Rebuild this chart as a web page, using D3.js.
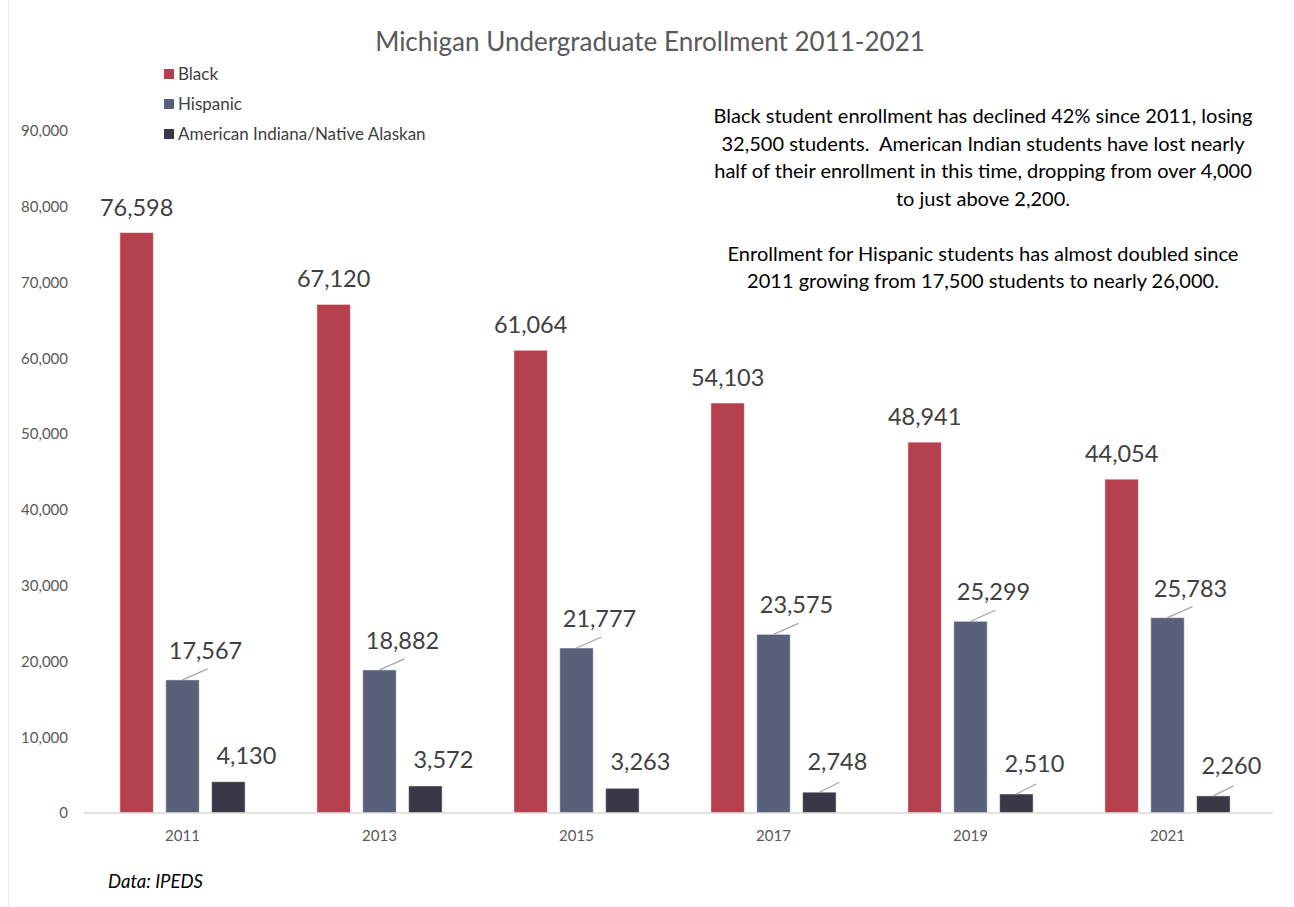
<!DOCTYPE html>
<html>
<head>
<meta charset="utf-8">
<script src="https://cdn.jsdelivr.net/npm/d3@7"></script>
<style>
  body { margin: 0; background: #fff; }
  svg { display: block; font-family: Lato, "Open Sans", sans-serif; }
  .note { white-space: pre; }
</style>
</head>
<body>
<div id="chart"></div>
<script>
// chart data
var years = ["2011", "2013", "2015", "2017", "2019", "2021"];
var seriesNames = ["Black", "Hispanic", "American Indiana/Native Alaskan"];
var black = [76598, 67120, 61064, 54103, 48941, 44054];
var hispanic = [17567, 18882, 21777, 23575, 25299, 25783];
var aian = [4130, 3572, 3263, 2748, 2510, 2260];
var yTicks = [0, 10000, 20000, 30000, 40000, 50000, 60000, 70000, 80000, 90000];
var colors = ["#b5404d", "#596079", "#3a3746"];

var notes = [
    "Black student enrollment has declined 42% since 2011, losing",
    "32,500 students.  American Indian students have lost nearly",
    "half of their enrollment in this time, dropping from over 4,000",
    "to just above 2,200.",
    "",
    "Enrollment for Hispanic students has almost doubled since",
    "2011 growing from 17,500 students to nearly 26,000."
];

function drawChart(){
    var w = 1294, h = 907;
    var padLeft = 84, padRight = 1266, baseY = 813, topY = 131;

    var svg = d3.select("#chart")
        .append("svg")
        .attr("width", w)
        .attr("height", h);

    // faint chart area border on the left
    svg.append("line")
        .attr("x1", 8.5).attr("x2", 8.5)
        .attr("y1", 0).attr("y2", h)
        .attr("stroke", "#ececec");

    var xScale = d3.scaleBand()
        .domain(years)
        .range([padLeft, padRight]);

    var xInner = d3.scaleBand()
        .domain(seriesNames)
        .range([xScale.bandwidth() / 2 - 64, xScale.bandwidth() / 2 + 64])
        .paddingInner(0.27)
        .paddingOuter(0.03);

    var yScale = d3.scaleLinear()
        .domain([0, 90000])
        .range([baseY, topY]);

    // y axis labels (no line, no ticks)
    var yAxis = svg.append("g")
        .attr("transform", "translate(68,0)")
        .call(d3.axisLeft(yScale).tickValues(yTicks).tickSize(0).tickPadding(0)
            .tickFormat(d3.format(",")));
    yAxis.select(".domain").remove();
    yAxis.selectAll("text")
        .attr("font-family", "Lato, sans-serif")
        .attr("font-size", 15)
        .attr("fill", "#595959");

    // rows of bars
    var rows = years.map(function(y, i){
        return {year: y, values: [black[i], hispanic[i], aian[i]]};
    });

    var groups = svg.selectAll("g.year")
        .data(rows)
        .enter()
        .append("g")
        .attr("class", "year")
        .attr("transform", function(d){ return "translate(" + xScale(d.year) + ",0)"; });

    groups.selectAll("rect")
        .data(function(d){ return d.values.map(function(v, j){ return {s: seriesNames[j], v: v, j: j}; }); })
        .enter()
        .append("rect")
        .attr("x", function(d){ return xInner(d.s); })
        .attr("y", function(d){ return yScale(d.v); })
        .attr("width", xInner.bandwidth())
        .attr("height", function(d){ return baseY - yScale(d.v); })
        .attr("fill", function(d){ return colors[d.j]; })
        .attr("stroke", "#ffffff")
        .attr("stroke-opacity", 0.5)
        .attr("stroke-width", 1);

    // x axis
    var xAxis = svg.append("g")
        .attr("transform", "translate(0," + baseY + ")")
        .call(d3.axisBottom(xScale).tickSize(0).tickPadding(17));
    xAxis.select(".domain")
        .attr("stroke", "#d9d9d9")
        .attr("stroke-width", 1.5)
        .attr("d", "M" + padLeft + ",0H1273");
    xAxis.selectAll("text")
        .attr("font-family", "Lato, sans-serif")
        .attr("font-size", 15)
        .attr("fill", "#595959");

    // data labels; Hispanic labels and the later AIAN ones sit off to the right with a leader line
    var fmt = d3.format(",");
    var labelOffsets = [
        {dx: 0, dy: -17, lx: 0, ly: 0},
        {dx: 23, dy: -21, lx: 25, ly: -11},
        {dx: 18, dy: -18, lx: 20, ly: -10}
    ];
    rows.forEach(function(r, i){
        r.values.forEach(function(v, j){
            var cx = xScale(r.year) + xInner(seriesNames[j]) + xInner.bandwidth() / 2;
            var ty = yScale(v);
            var off = labelOffsets[j];
            var dy = off.dy;
            var leader = (j == 1) || (j == 2 && i >= 3);
            if (j == 2 && leader) dy = -22;
            if (leader){
                svg.append("line")
                    .attr("x1", cx).attr("y1", ty)
                    .attr("x2", cx + off.lx).attr("y2", ty + off.ly)
                    .attr("stroke", "#a6a6a6")
                    .attr("stroke-width", 1.2);
            }
            svg.append("text")
                .attr("x", cx + off.dx)
                .attr("y", ty + dy)
                .attr("text-anchor", "middle")
                .attr("font-size", 23.5)
                .attr("fill", "#404040")
                .text(fmt(v));
        });
    });

    // title
    svg.append("text")
        .attr("x", 650)
        .attr("y", 51)
        .attr("text-anchor", "middle")
        .attr("font-size", 26)
        .attr("fill", "#595959")
        .text("Michigan Undergraduate Enrollment 2011-2021");

    // legend
    var legend = svg.append("g");
    seriesNames.forEach(function(name, i){
        legend.append("rect")
            .attr("x", 164)
            .attr("y", 69 + i * 30)
            .attr("width", 10)
            .attr("height", 10)
            .attr("fill", colors[i]);
        legend.append("text")
            .attr("x", 178)
            .attr("y", 80 + i * 30)
            .attr("font-size", 17)
            .attr("fill", "#404040")
            .text(name);
    });

    // annotation
    svg.append("g").selectAll("text")
        .data(notes)
        .enter()
        .append("text")
        .attr("class", "note")
        .attr("x", 983)
        .attr("y", function(d, i){ return 123 + i * 27.5; })
        .attr("text-anchor", "middle")
        .attr("font-size", 20)
        .attr("fill", "#000")
        .text(function(d){ return d; });

    // source
    svg.append("text")
        .attr("x", 108)
        .attr("y", 888)
        .attr("font-size", 18.5)
        .attr("font-style", "italic")
        .attr("fill", "#000")
        .text("Data: IPEDS");
}

drawChart();
</script>
</body>
</html>
